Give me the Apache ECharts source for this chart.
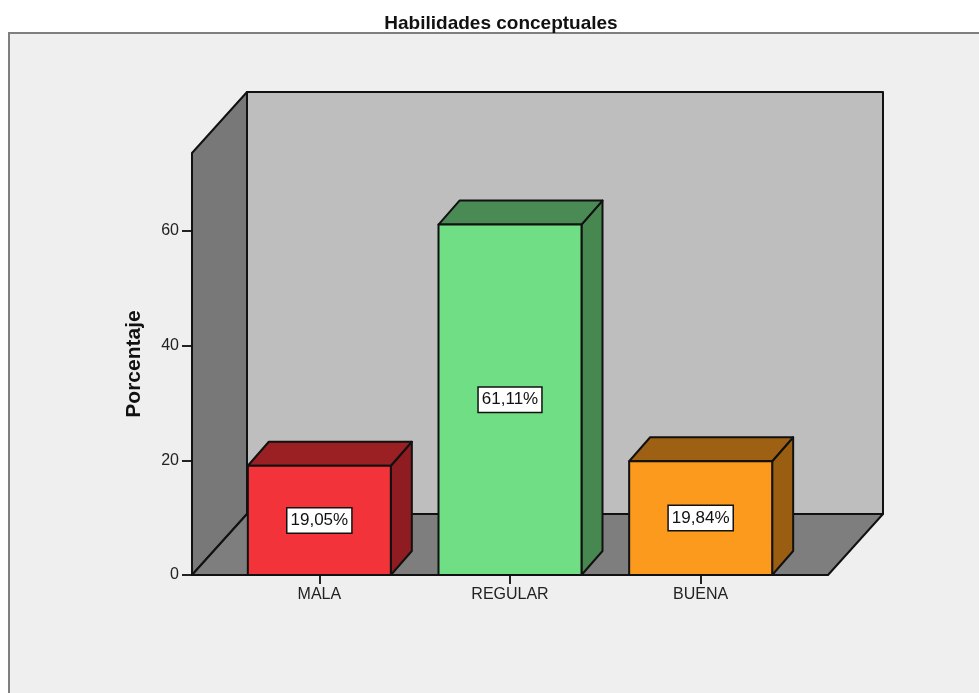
<!DOCTYPE html>
<html>
<head>
<meta charset="utf-8">
<title>Habilidades conceptuales</title>
<script src="https://cdn.jsdelivr.net/npm/echarts@6/dist/echarts.min.js"></script>
<style>
html, body { margin: 0; padding: 0; background: #fff; }
#chart { width: 979px; height: 693px; }
</style>
</head>
<body>
<div id="chart"></div>
<script>
const categories = ['MALA', 'REGULAR', 'BUENA'];
const percentages = [19.05, 61.11, 19.84];
const frontColors = ['#F2333A', '#70DE84', '#FB9A1C'];
const topColors = ['#9A2024', '#4A8A55', '#9E6012'];
const sideColors = ['#8E1C20', '#478850', '#9A5E12'];
const yTicks = [0, 20, 40, 60];
const yMax = 73.6;

// Depth of the 3D effect, in pixels
const roomDepth = [55, -61];
const barDepth = [21, -24];
// The room extends past the outer category bands by this many pixels
const roomOverhang = 32;
const barShare = 0.75;
const edge = { stroke: '#111', lineWidth: 2, lineJoin: 'round' };
const fontFamily = '"Liberation Sans", Arial, sans-serif';

function face(points, fill) {
  return { type: 'polygon', shape: { points }, style: Object.assign({ fill }, edge) };
}

function shift(p, d) {
  return [p[0] + d[0], p[1] + d[1]];
}

function renderRoom(params, api) {
  const band = api.size([1, 0])[0];
  const bl = api.coord([0, 0]);
  const br = api.coord([categories.length - 1, 0]);
  const tl = api.coord([0, yMax]);
  const a = [bl[0] - band / 2 - roomOverhang, bl[1]];
  const b = [br[0] + band / 2 + roomOverhang, br[1]];
  const t = [a[0], tl[1]];
  const tr = [b[0], tl[1]];
  return {
    type: 'group',
    children: [
      face([shift(a, roomDepth), shift(b, roomDepth), shift(tr, roomDepth), shift(t, roomDepth)], '#BEBEBE'),
      face([a, t, shift(t, roomDepth), shift(a, roomDepth)], '#787878'),
      face([a, b, shift(b, roomDepth), shift(a, roomDepth)], '#7E7E7E')
    ]
  };
}

function renderBar(params, api) {
  const i = params.dataIndex;
  const value = api.value(1);
  const half = api.size([1, 0])[0] * barShare / 2;
  const base = api.coord([i, 0]);
  const head = api.coord([i, value]);
  const mid = api.coord([i, value / 2]);
  const bl = [base[0] - half, base[1]];
  const br = [base[0] + half, base[1]];
  const tl = [base[0] - half, head[1]];
  const tr = [base[0] + half, head[1]];
  return {
    type: 'group',
    children: [
      face([br, tr, shift(tr, barDepth), shift(br, barDepth)], sideColors[i]),
      face([tl, tr, shift(tr, barDepth), shift(tl, barDepth)], topColors[i]),
      face([bl, br, tr, tl], frontColors[i]),
      {
        type: 'text',
        x: mid[0],
        y: mid[1],
        style: {
          text: value.toFixed(2).replace('.', ',') + '%',
          font: '17px ' + fontFamily,
          fill: '#111',
          align: 'center',
          verticalAlign: 'middle',
          backgroundColor: '#fff',
          borderColor: '#111',
          borderWidth: 1.5,
          padding: [4, 3, 3, 3]
        }
      }
    ]
  };
}

const chart = echarts.init(document.getElementById('chart'), null, { renderer: 'canvas' });
chart.setOption({
  animation: false,
  backgroundColor: '#fff',
  title: {
    text: 'Habilidades conceptuales',
    left: 496,
    top: 9,
    textAlign: 'center',
    textStyle: { fontFamily, fontSize: 19, fontWeight: 'bold', color: '#111' }
  },
  graphic: [{
    type: 'rect',
    z: -10,
    shape: { x: 9, y: 33, width: 1000, height: 700 },
    style: { fill: '#EFEFEF', stroke: '#7f7f7f', lineWidth: 2 }
  }],
  grid: { left: 224, right: 183, top: 153, bottom: 118 },
  xAxis: {
    type: 'category',
    data: categories,
    axisLine: { show: false },
    axisTick: { show: true, alignWithLabel: true, length: 9, lineStyle: { color: '#222', width: 2 } },
    axisLabel: { margin: 12, fontFamily, fontSize: 16, color: '#222' }
  },
  yAxis: {
    type: 'value',
    min: 0,
    max: yMax,
    offset: roomOverhang,
    name: 'Porcentaje',
    nameLocation: 'middle',
    nameGap: 47,
    nameTextStyle: { fontFamily, fontSize: 21, fontWeight: 'bold', color: '#111' },
    splitLine: { show: false },
    axisLine: { show: false },
    axisTick: { show: true, length: 10, customValues: yTicks, lineStyle: { color: '#222', width: 2 } },
    axisLabel: { margin: 13, padding: [3, 0, 0, 0], customValues: yTicks, fontFamily, fontSize: 16, color: '#222' }
  },
  series: [
    { type: 'custom', z: 1, silent: true, data: [[0, 0]], renderItem: renderRoom, clip: false },
    { type: 'custom', z: 2, data: percentages.map((v, i) => [i, v]), renderItem: renderBar, clip: false,
      encode: { x: 0, y: 1 } }
  ]
});
</script>
</body>
</html>
